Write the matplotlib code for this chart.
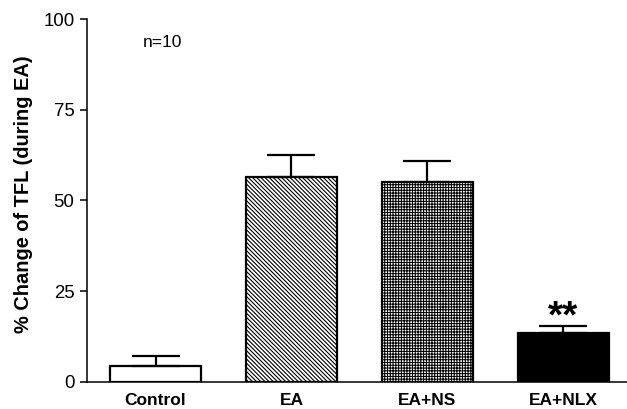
import matplotlib
matplotlib.use('Agg')
import matplotlib.pyplot as plt
import numpy as np

plt.rcParams['font.family'] = ['Liberation Sans', 'DejaVu Sans']

# Data
groups = ['Control', 'EA', 'EA+NS', 'EA+NLX']
means = [4.2, 56.5, 55.0, 13.5]
sems = [3.0, 5.9, 5.8, 2.0]
hatches = ['', '\\' * 8, '+' * 6, '']
faces = ['white', 'white', 'white', 'black']

fig = plt.figure(figsize=(6.27, 4.09), dpi=100)
ax = fig.add_axes([0.1388, 0.0667, 0.8612, 0.8868])

x = np.arange(len(groups))
for i in range(len(groups)):
    b = ax.bar(x[i], means[i], 0.67, color=faces[i], edgecolor='black',
               linewidth=1.6, hatch=hatches[i] or None, zorder=2)
    for p in b:
        if hasattr(p, 'set_hatch_linewidth'):
            p.set_hatch_linewidth(0.8 if i == 1 else 0.75)

ax.errorbar(x, means, yerr=[np.zeros(len(sems)), sems], fmt='none',
            ecolor='black', elinewidth=1.6, capsize=17, capthick=1.6, zorder=3)

ax.text(3, 22.6, '**', ha='center', va='top', fontsize=28, fontweight='bold')
ax.text(0.05, 93.4, 'n=10', ha='center', va='center', fontsize=12.5)

ax.set_xlim(-0.504, 3.47)
ax.set_ylim(0, 100)
ax.set_yticks([0, 25, 50, 75, 100])
ax.set_xticks(x)
ax.set_xticklabels(groups, fontweight='bold', fontsize=12.5)
ax.tick_params(axis='x', length=0, pad=8)
ax.tick_params(axis='y', direction='out', length=5, width=1.1, labelsize=13.4, pad=4)
ax.set_ylabel('% Change of TFL (during EA)', fontsize=14.4, fontweight='bold')
ax.yaxis.set_label_coords(-0.1, 0.5175)

for s in ['top', 'right']:
    ax.spines[s].set_visible(False)
ax.spines['left'].set_linewidth(1.1)
ax.spines['bottom'].set_linewidth(1.1)

fig.savefig('out.png', dpi=100)
